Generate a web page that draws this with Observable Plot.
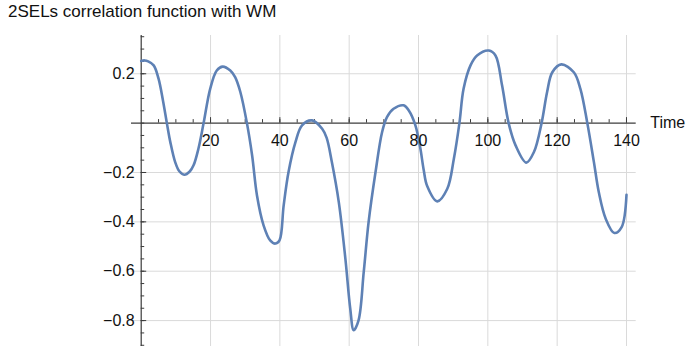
<!DOCTYPE html>
<html>
<head>
<meta charset="utf-8">
<script src="https://cdn.jsdelivr.net/npm/d3@7"></script>
<script src="https://cdn.jsdelivr.net/npm/@observablehq/plot@0.6"></script>
<style>
  html, body { margin: 0; padding: 0; background: #fff; }
  #wrap { position: relative; width: 687px; height: 346px; overflow: hidden; }
  #title {
    position: absolute; left: 8px; top: 3px;
    font-family: "Liberation Sans", Arial, sans-serif;
    font-size: 17px; line-height: 17px; color: #111; white-space: nowrap;
  }
  #chart svg { display: block; }
</style>
</head>
<body>
<div id="wrap">
  <div id="chart"></div>
  <div id="title">2SELs correlation function with WM</div>
</div>
<script>
// Correlation samples: time and value
const time = [0, 1, 2, 3.6, 5, 6.3, 7.4, 8.4, 9.8, 11, 12.5, 14, 15.1, 16.5, 18, 19.9, 21.8, 23.5,
  25.7, 27.1, 28.6, 30.5, 32, 33.4, 35.3, 37.2, 38.7, 39.9, 41.1, 42.5, 44.5, 46.4, 49.3, 52.2,
  53.5, 55, 57, 58.9, 60.3, 61.3, 62.7, 64.2, 65.6, 67.6, 69.5, 70.9, 72.8, 75.7, 77.2, 79.1,
  80.5, 81.5, 82.5, 85.4, 88.3, 90.2, 91.8, 93, 95, 96.9, 100.3, 102.2, 104.1, 106, 108, 111.1,
  113.3, 115.5, 117.1, 118.6, 121.2, 124.8, 126.7, 128.7, 130.6, 132, 134, 136.5, 138.6, 140];
const correlation = [0.252, 0.254, 0.25, 0.234, 0.18, 0.09, 0.0, -0.077, -0.158, -0.195, -0.209,
  -0.196, -0.171, -0.104, 0.0, 0.139, 0.213, 0.229, 0.213, 0.186, 0.126, 0.0, -0.131, -0.293,
  -0.414, -0.475, -0.488, -0.475, -0.333, -0.198, -0.077, -0.009, 0.011, -0.023, -0.06, -0.158,
  -0.32, -0.549, -0.751, -0.839, -0.799, -0.603, -0.401, -0.198, -0.036, 0.024, 0.058, 0.072,
  0.051, -0.009, -0.1, -0.19, -0.255, -0.317, -0.266, -0.144, 0.0, 0.139, 0.234, 0.274, 0.294,
  0.274, 0.153, 0.0, -0.09, -0.16, -0.117, 0.0, 0.126, 0.206, 0.238, 0.206, 0.139, 0.0, -0.158,
  -0.279, -0.387, -0.445, -0.421, -0.29];

// Axis ticks
const xMajor = [20, 40, 60, 80, 100, 120, 140];
const xMinor = d3.range(5, 141, 5);
const yMajor = [0.2, -0.2, -0.4, -0.6, -0.8];
const yMinor = d3.range(-18, 8).map(k => k * 0.05);
const yLabels = ["0.2", "\u22120.2", "\u22120.4", "\u22120.6", "\u22120.8"];

const data = time.map((t, i) => ({t, v: correlation[i]}));

const xDomain = [-2.8, 142.8];
const yDomain = [-0.905, 0.355];
const width = 687, height = 346;
const mL = 131, mR = 51.3, mT = 35, mB = 0;
const xPerPx = (xDomain[1] - xDomain[0]) / (width - mL - mR);
const yPerPx = (yDomain[1] - yDomain[0]) / (height - mT - mB);

const axisColor = "#3c3c3c";
const gridColor = "#dadada";
const font = "Liberation Sans, Arial, sans-serif";

const chart = Plot.plot({
  width, height,
  marginLeft: mL, marginRight: mR, marginTop: mT, marginBottom: mB,
  x: {domain: xDomain, axis: null},
  y: {domain: yDomain, axis: null},
  style: {fontFamily: font, background: "#fff", overflow: "visible"},
  marks: [
    // grid
    Plot.ruleX(xMajor, {stroke: gridColor, strokeWidth: 1, y1: yDomain[0], y2: yDomain[1]}),
    Plot.ruleY(yMajor, {stroke: gridColor, strokeWidth: 1, x1: xDomain[0], x2: xDomain[1]}),
    // axes
    Plot.ruleY([0], {stroke: axisColor, strokeWidth: 1.2, x1: xDomain[0], x2: xDomain[1]}),
    Plot.ruleX([0], {stroke: axisColor, strokeWidth: 1.2, y1: yDomain[0], y2: yDomain[1]}),
    // x ticks (upward)
    Plot.ruleX(xMinor, {stroke: axisColor, strokeWidth: 1, y1: 0, y2: 3.5 * yPerPx}),
    Plot.ruleX(xMajor, {stroke: axisColor, strokeWidth: 1, y1: 0, y2: 5.5 * yPerPx}),
    // y ticks (rightward)
    Plot.ruleY(yMinor, {stroke: axisColor, strokeWidth: 1, x1: 0, x2: 3.5 * xPerPx}),
    Plot.ruleY(yMajor, {stroke: axisColor, strokeWidth: 1, x1: 0, x2: 5.5 * xPerPx}),
    // correlation curve
    Plot.line(data, {x: "t", y: "v", stroke: "#5e81b5", strokeWidth: 2.6, curve: "catmull-rom",
      strokeLinejoin: "round", strokeLinecap: "round"}),
    // tick labels
    Plot.text(xMajor, {x: d => d, y: 0, text: d => String(d), dy: 18, fontSize: 16, fill: "#111"}),
    Plot.text(yMajor, {x: 0, y: d => d, text: (d, i) => yLabels[i], dx: -6.5, textAnchor: "end",
      fontSize: 16, fill: "#111"}),
    Plot.text(["Time"], {x: xDomain[1], y: 0, dx: 14, textAnchor: "start", fontSize: 16, fill: "#111"})
  ]
});
document.getElementById("chart").appendChild(chart);
</script>
</body>
</html>
